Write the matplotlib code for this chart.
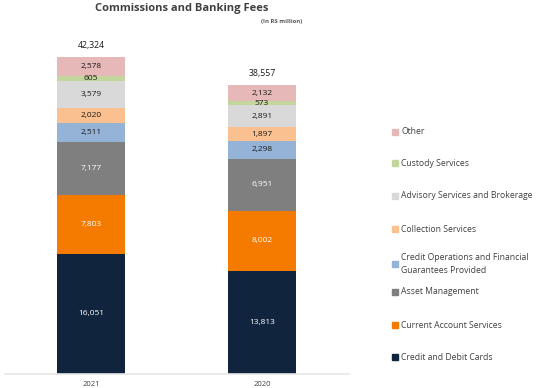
import numpy as np
import matplotlib.pyplot as plt
from matplotlib.patches import Rectangle

plt.rcParams['font.family'] = ['Open Sans', 'DejaVu Sans']

years = ['2021', '2020']
categories = ['Credit and Debit Cards', 'Current Account Services', 'Asset Management',
              'Credit Operations and Financial\nGuarantees Provided', 'Collection Services',
              'Advisory Services and Brokerage', 'Custody Services', 'Other']
values = {
    'Credit and Debit Cards': [16051, 13813],
    'Current Account Services': [7803, 8002],
    'Asset Management': [7177, 6951],
    'Credit Operations and Financial\nGuarantees Provided': [2511, 2298],
    'Collection Services': [2020, 1897],
    'Advisory Services and Brokerage': [3579, 2891],
    'Custody Services': [605, 573],
    'Other': [2578, 2132],
}
totals = [42324, 38557]

colors = ['#10243e', '#f57a00', '#7f7f7f', '#95b3d7', '#fac090', '#d9d9d9', '#c3d69b', '#e6b9b8']
text_colors = ['white', 'white', 'white', '#1a1a1a', '#1a1a1a', '#1a1a1a', '#1a1a1a', '#1a1a1a']

W, H = 554, 388
fig = plt.figure(figsize=(W / 100, H / 100), dpi=100)
# axes in pixel terms: x 5..349, bottom at y=374, top at y=40
ax = fig.add_axes([5 / W, (H - 374) / H, 344 / W, 334 / H])
ax.set_xlim(-0.503, 1.509)
ax.set_ylim(0, 334 / 0.00749)

x = np.arange(len(years))
bottom = np.zeros(len(years))
for cat, col, tc in zip(categories, colors, text_colors):
    vals = np.array(values[cat], dtype=float)
    ax.bar(x, vals, width=0.4, bottom=bottom, color=col, edgecolor='none', zorder=2)
    for xi, v, b in zip(x, vals, bottom):
        ax.text(xi, b + v / 2, f'{int(v):,}', ha='center', va='center',
                fontsize=6, color=tc, zorder=3)
    bottom += vals

for xi, t in zip(x, totals):
    ax.text(xi, t + 900, f'{t:,}', ha='center', va='bottom', fontsize=6.3, color='#1a1a1a')

for s in ['top', 'right', 'left']:
    ax.spines[s].set_visible(False)
ax.spines['bottom'].set_color('#e6e6e6')
ax.spines['bottom'].set_linewidth(1.2)
ax.set_yticks([])
ax.set_xticks(x)
ax.set_xticklabels(years, fontsize=5.5, color='#404040')
ax.tick_params(axis='x', length=0, pad=5)

fig.text(182 / W, 1 - 9 / H, 'Commissions and Banking Fees', ha='center', va='center',
         fontsize=8, fontweight='bold', color='#404040')
fig.text(282 / W, 1 - 22 / H, '(In R$ million)', ha='center', va='center',
         fontsize=4.3, fontweight='bold', color='#595959')

# legend drawn by hand, top to bottom
leg_y = [132, 163, 196, 229, 264, 292, 325, 357]
for cat, col, yy in zip(categories[::-1], colors[::-1], leg_y):
    fig.patches.append(Rectangle((392 / W, 1 - (yy + 3) / H), 6 / W, 6 / H,
                                 transform=fig.transFigure, color=col))
    fig.text(401 / W, 1 - yy / H, cat, ha='left', va='center', fontsize=6.2,
             color='#404040', linespacing=1.5)

fig.savefig('out.png', dpi=100)
